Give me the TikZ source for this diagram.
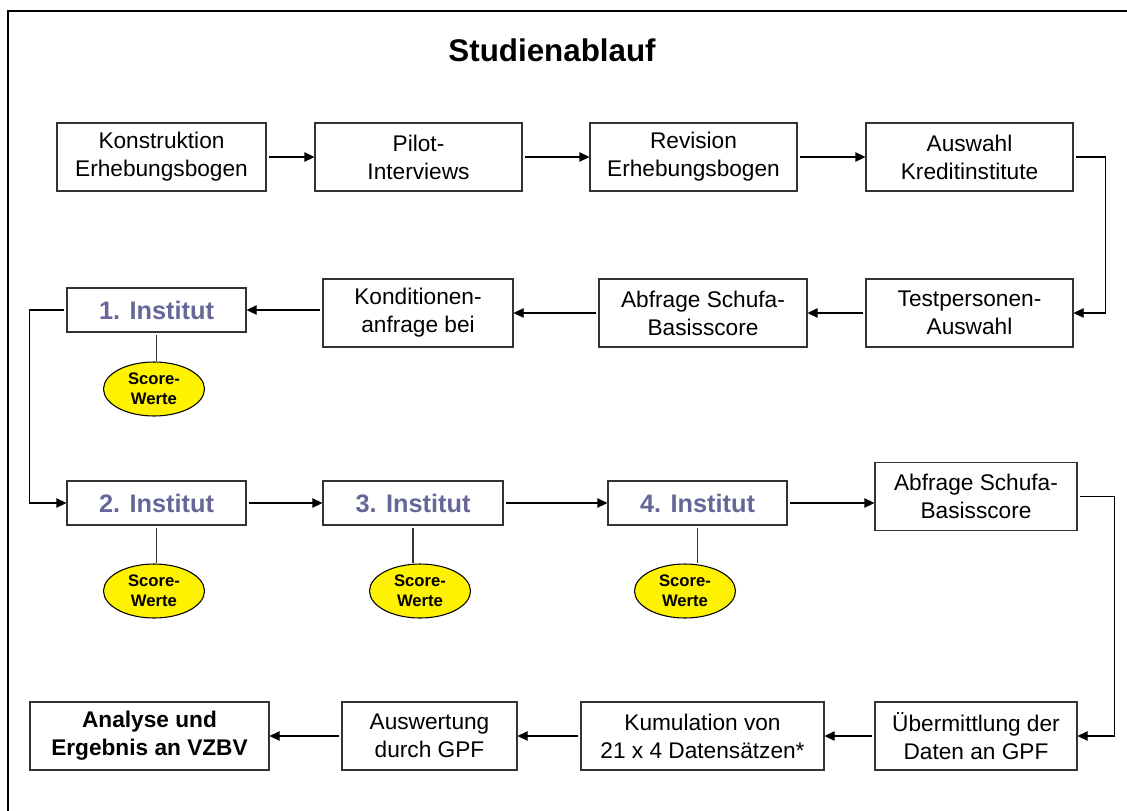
\documentclass[tikz,border=0pt]{standalone}
\usepackage{fontspec}
\setmainfont{Liberation Sans}
\usetikzlibrary{arrows.meta,shapes.geometric}
\definecolor{instblau}{RGB}{102,102,153}
\definecolor{rand}{RGB}{51,51,51}
\begin{document}
\begin{tikzpicture}[x=0.75pt,y=-0.75pt,
	kasten/.style={draw=rand, line width=0.8pt, minimum height=51pt, inner sep=0pt, align=center, font=\fontsize{17}{21}\selectfont},
	institut/.style={kasten, minimum height=33pt, minimum width=134.25pt, text=instblau, font=\fontsize{19}{22}\selectfont\bfseries},
	score/.style={ellipse, draw=black, line width=0.8pt, fill=yellow, minimum width=75.75pt, minimum height=40.5pt, inner sep=0pt, align=center, font=\fontsize{12.5}{15}\selectfont\bfseries},
	pfeil/.style={draw=black, line width=0.8pt, shorten <=2pt, -{Triangle[length=7.5pt,width=7pt]}},
	stiel/.style={draw=rand, line width=0.8pt, shorten <=2pt}]
	\useasboundingbox (0,0) rectangle (1127,810);
	\clip (0,0) rectangle (1127,810);
	\draw [line width=1.5pt] (8,830) -- (8,11) -- (1140,11);
	\node (titel) at (552,50) {\fontsize{23.5}{28}\selectfont\bfseries Studienablauf};
	% Zeile 1
	\node [kasten, minimum width=156.75pt] (k1) at (161.5,157) {Konstruktion\\Erhebungsbogen};
	\node [kasten, minimum width=155.25pt] (k2) at (418.5,157) {Pilot-\\Interviews};
	\node [kasten, minimum width=155.25pt] (k3) at (693.5,157) {Revision\\Erhebungsbogen};
	\node [kasten, minimum width=155.25pt] (k4) at (969.5,157) {Auswahl\\Kreditinstitute};
	% Zeile 2
	\node [kasten, minimum width=155.25pt] (k5) at (969.5,313) {Testpersonen-\\Auswahl};
	\node [kasten, minimum width=156pt] (k6) at (703,313) {Abfrage Schufa-\\Basisscore};
	\node [kasten, minimum width=142.5pt] (k7) at (418,313) {Konditionen-\\anfrage bei};
	\node [institut] (i1) at (156.5,310) {1. Institut};
	% Zeile 3
	\node [institut] (i2) at (156.5,503) {2. Institut};
	\node [institut, minimum width=135pt] (i3) at (413,503) {3. Institut};
	\node [institut] (i4) at (697.5,503) {4. Institut};
	\node [kasten, minimum width=151.5pt] (k8) at (976,496.5) {Abfrage Schufa-\\Basisscore};
	% Zeile 4
	\node [kasten, minimum width=151.5pt] (k9) at (976,736) {Übermittlung der\\Daten an GPF};
	\node [kasten, minimum width=182.25pt] (k10) at (702.5,736) {Kumulation von\\21 x 4 Datensätzen*};
	\node [kasten, minimum width=131.25pt] (k11) at (429.5,736) {Auswertung\\durch GPF};
	\node [kasten, minimum width=179.25pt, font=\fontsize{17}{21}\selectfont\bfseries] (k12) at (149.5,736) {Analyse und\\Ergebnis an VZBV};
	% Score-Werte
	\node [score] (e1) at (154,389) {Score-\\Werte};
	\node [score] (e2) at (154,591) {Score-\\Werte};
	\node [score] (e3) at (420,591) {Score-\\Werte};
	\node [score] (e4) at (685,591) {Score-\\Werte};
	\foreach \i in {1,2,3,4} {
		\draw [stiel] (i\i.south) -- (i\i.south |- e\i.north);
	}
	% Pfeile
	\draw [pfeil] (k1.east) -- (k2.west);
	\draw [pfeil] (k2.east) -- (k3.west);
	\draw [pfeil] (k3.east) -- (k4.west);
	\draw [pfeil] (k4.east) -- ++(32,0) |- (k5.east);
	\draw [pfeil] (k5.west) -- (k6.east);
	\draw [pfeil] (k6.west) -- (k7.east);
	\draw [pfeil] (i1.east -| k7.west) -- (i1.east);
	\draw [pfeil] (i1.west) -- ++(-37,0) |- (i2.west);
	\draw [pfeil] (i2.east) -- (i3.west);
	\draw [pfeil] (i3.east) -- (i4.west);
	\draw [pfeil] (i4.east) -- (i4.east -| k8.west);
	\draw [pfeil] (k8.east) -- ++(37,0) |- (k9.east);
	\draw [pfeil] (k9.west) -- (k10.east);
	\draw [pfeil] (k10.west) -- (k11.east);
	\draw [pfeil] (k11.west) -- (k12.east);
\end{tikzpicture}
\end{document}
